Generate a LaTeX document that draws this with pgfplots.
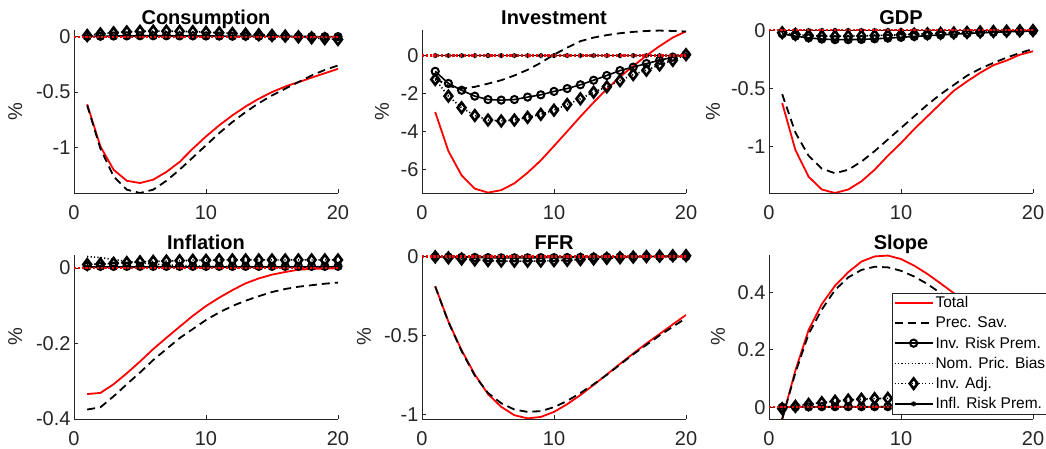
\documentclass[border=0pt]{standalone}
\usepackage{fontspec}
\setmainfont{Liberation Sans}
\usepackage{pgfplots}
\usepackage{pgfplotstable}
\pgfplotsset{compat=1.18}
\definecolor{axgray}{rgb}{0.15,0.15,0.15}

\pgfplotstableread{
t tot ps irp npb ia irf
1 -0.61 -0.62 0.002 0 0.010 0
2 -0.99 -1.01 0.004 0 0.025 0
3 -1.20 -1.26 0.006 0 0.035 0
4 -1.30 -1.38 0.007 0 0.043 0
5 -1.32 -1.41 0.008 0 0.048 0
6 -1.29 -1.38 0.008 0 0.050 0
7 -1.22 -1.30 0.008 0 0.050 0
8 -1.13 -1.20 0.007 0 0.048 0
9 -1.01 -1.09 0.007 0 0.045 0
10 -0.90 -0.98 0.006 0 0.040 0
11 -0.80 -0.87 0.005 0 0.035 0
12 -0.71 -0.77 0.004 0 0.029 0
13 -0.63 -0.68 0.004 0 0.023 0
14 -0.56 -0.60 0.003 0 0.017 0
15 -0.50 -0.53 0.002 0 0.011 0
16 -0.45 -0.47 0.002 0 0.005 0
17 -0.41 -0.41 0.001 0 -0.002 0
18 -0.37 -0.35 0.001 0 -0.010 0
19 -0.33 -0.30 0 0 -0.018 0
20 -0.29 -0.26 0 0 -0.026 0
}\tabC

\pgfplotstableread{
t tot ps irp npb ia irf
1 -2.98 -1.20 -0.83 0 -1.26 0
2 -5.04 -1.60 -1.47 0 -2.14 0
3 -6.32 -1.75 -1.83 0 -2.75 0
4 -7.02 -1.65 -2.14 0 -3.16 0
5 -7.23 -1.48 -2.32 0 -3.40 0
6 -7.10 -1.30 -2.35 0 -3.45 0
7 -6.74 -1.05 -2.32 0 -3.40 0
8 -6.18 -0.75 -2.19 0 -3.26 0
9 -5.53 -0.38 -2.07 0 -3.10 0
10 -4.77 0.05 -1.89 0 -2.88 0
11 -4.00 0.42 -1.74 0 -2.58 0
12 -3.22 0.76 -1.54 0 -2.28 0
13 -2.47 0.95 -1.30 0 -1.93 0
14 -1.77 1.08 -1.05 0 -1.65 0
15 -1.12 1.18 -0.79 0 -1.32 0
16 -0.55 1.25 -0.61 0 -1.00 0
17 0.00 1.30 -0.42 0 -0.77 0
18 0.50 1.32 -0.25 0 -0.49 0
19 0.95 1.30 -0.08 0 -0.25 0
20 1.28 1.27 0.05 0 0.05 0
}\tabI

\pgfplotstableread{
t tot ps irp npb ia irf
1 -0.626 -0.55 -0.030 0 -0.020 0
2 -1.03 -0.88 -0.050 0 -0.035 0
3 -1.26 -1.08 -0.065 0 -0.045 0
4 -1.37 -1.19 -0.075 0 -0.050 0
5 -1.40 -1.23 -0.080 0 -0.050 0
6 -1.37 -1.20 -0.080 0 -0.050 0
7 -1.30 -1.13 -0.078 0 -0.048 0
8 -1.20 -1.04 -0.073 0 -0.045 0
9 -1.08 -0.94 -0.067 0 -0.042 0
10 -0.97 -0.84 -0.060 0 -0.038 0
11 -0.85 -0.74 -0.053 0 -0.034 0
12 -0.74 -0.64 -0.046 0 -0.030 0
13 -0.63 -0.55 -0.040 0 -0.026 0
14 -0.52 -0.47 -0.033 0 -0.022 0
15 -0.44 -0.39 -0.027 0 -0.018 0
16 -0.365 -0.33 -0.022 0 -0.014 0
17 -0.30 -0.28 -0.017 0 -0.010 0
18 -0.26 -0.235 -0.013 0 -0.007 0
19 -0.21 -0.195 -0.009 0 -0.004 0
20 -0.18 -0.16 -0.006 0 -0.002 0
}\tabG

\pgfplotstableread{
t tot ps irp npb ia irf
1 -0.334 -0.375 0.004 0.030 0.009 0.002
2 -0.331 -0.369 0.004 0.027 0.010 0.002
3 -0.308 -0.340 0.004 0.022 0.012 0.002
4 -0.279 -0.308 0.004 0.017 0.014 0.002
5 -0.248 -0.277 0.004 0.013 0.016 0.002
6 -0.215 -0.244 0.004 0.010 0.017 0.002
7 -0.185 -0.215 0.004 0.008 0.018 0.002
8 -0.156 -0.186 0.004 0.006 0.019 0.002
9 -0.127 -0.162 0.004 0.005 0.020 0.002
10 -0.101 -0.138 0.004 0.004 0.020 0.002
11 -0.079 -0.118 0.004 0.004 0.021 0.002
12 -0.059 -0.101 0.004 0.003 0.021 0.002
13 -0.041 -0.087 0.004 0.003 0.021 0.002
14 -0.028 -0.075 0.004 0.003 0.021 0.002
15 -0.018 -0.064 0.004 0.003 0.021 0.002
16 -0.011 -0.056 0.004 0.003 0.021 0.002
17 -0.005 -0.050 0.004 0.003 0.021 0.002
18 -0.003 -0.046 0.004 0.003 0.021 0.002
19 -0.002 -0.042 0.004 0.003 0.021 0.002
20 -0.001 -0.039 0.004 0.003 0.021 0.002
}\tabP

\pgfplotstableread{
t tot ps irp npb ia irf
1 -0.188 -0.19 -0.001 0 -0.002 0
2 -0.412 -0.415 -0.003 0 -0.008 0
3 -0.594 -0.60 -0.005 0 -0.015 0
4 -0.748 -0.755 -0.006 0 -0.021 0
5 -0.872 -0.865 -0.007 0 -0.025 0
6 -0.953 -0.93 -0.008 0 -0.028 0
7 -1.006 -0.97 -0.008 0 -0.029 0
8 -1.026 -0.985 -0.008 0 -0.029 0
9 -1.017 -0.98 -0.007 0 -0.028 0
10 -0.985 -0.955 -0.007 0 -0.026 0
11 -0.936 -0.915 -0.006 0 -0.023 0
12 -0.878 -0.865 -0.005 0 -0.019 0
13 -0.814 -0.81 -0.004 0 -0.015 0
14 -0.748 -0.75 -0.003 0 -0.011 0
15 -0.68 -0.685 -0.002 0 -0.007 0
16 -0.615 -0.62 -0.001 0 -0.003 0
17 -0.551 -0.56 0 0 0.000 0
18 -0.491 -0.50 0 0 0.003 0
19 -0.43 -0.445 0 0 0.005 0
20 -0.37 -0.39 0 0 0.006 0
}\tabF

\pgfplotstableread{
t tot ps irp npb ia irf
1 -0.041 -0.041 0 0 -0.005 0
2 0.128 0.120 0.001 0 0.003 0
3 0.269 0.255 0.001 0 0.010 0
4 0.359 0.340 0.002 0 0.016 0
5 0.423 0.408 0.002 0 0.021 0
6 0.470 0.452 0.002 0 0.025 0
7 0.507 0.478 0.002 0 0.028 0
8 0.525 0.489 0.002 0 0.030 0
9 0.528 0.487 0.002 0 0.031 0
10 0.516 0.475 0.002 0 0.031 0
11 0.493 0.455 0.002 0 0.030 0
12 0.464 0.429 0.002 0 0.029 0
13 0.431 0.397 0.002 0 0.027 0
14 0.397 0.365 0.002 0 0.025 0
15 0.360 0.330 0.002 0 0.023 0
16 0.320 0.295 0.002 0 0.021 0
17 0.280 0.260 0.002 0 0.019 0
18 0.245 0.230 0.002 0 0.017 0
19 0.210 0.200 0.002 0 0.015 0
20 0.180 0.170 0.002 0 0.013 0
}\tabS

\pgfplotsset{
  irf/.style={
    scale only axis, width=264pt, anchor=south west,
    xmin=0, xmax=20, xtick={0,10,20},
    axis lines*=left, tick align=inside, clip mode=individual,
    axis line style={draw=axgray, line width=0.6pt},
    tick style={draw=axgray, line width=0.6pt}, major tick length=4pt,
    /pgf/number format/assume math mode=true,
    ticklabel style={font=\fontsize{20}{24}\selectfont, text=axgray},
    xticklabel style={anchor=base, yshift=-27pt},
    title style={at={(0.5,1)}, anchor=base, yshift=-1pt, font=\bfseries\fontsize{20}{24}\selectfont},
    ylabel={\%},
    ylabel style={font=\fontsize{20}{24}\selectfont, text=axgray, anchor=center, at={(axis description cs:#1,0.5)}},
    legend image code/.code={\draw[mark repeat=2,mark phase=2,##1] plot coordinates {(0pt,0pt) (19pt,0pt) (38pt,0pt)};},
  },
}

\newcommand\irfplots[1]{%
  \addplot[red, line width=1.8pt] table[x=t,y=tot]{#1};
  \addplot[black, line width=1.8pt, dash pattern=on 8pt off 5pt] table[x=t,y=ps]{#1};
  \addplot[black, line width=1.6pt, mark=o, mark size=3.6pt, mark options={solid, line width=2pt}] table[x=t,y=irp]{#1};
  \addplot[black, line width=1.6pt, dash pattern=on 1.2pt off 2.2pt] table[x=t,y=npb]{#1};
  \addplot[black, line width=1.6pt, dash pattern=on 1.2pt off 2.2pt, mark=diamond, mark size=5.2pt, mark options={solid, line width=2.6pt}] table[x=t,y=ia]{#1};
  \addplot[black, line width=1.6pt, mark=asterisk, mark size=2.5pt, mark options={solid}] table[x=t,y=irf]{#1};
  \addplot[red, line width=2.2pt, dash pattern=on 2.2pt off 1.6pt, forget plot] coordinates {(0,0) (20,0)};
}

\begin{document}
\begin{tikzpicture}
\path[use as bounding box] (0,0) rectangle (1046pt,449pt);

\begin{axis}[irf=-0.223, at={(74pt,256pt)}, height=163pt,
  ymin=-1.41, ymax=0.06, ytick={-1,-0.5,0}, title={Consumption}]
\irfplots{\tabC}
\end{axis}

\begin{axis}[irf=-0.152, at={(422pt,256pt)}, height=163pt,
  ymin=-7.25, ymax=1.35, ytick={-6,-4,-2,0}, title={Investment}]
\irfplots{\tabI}
\end{axis}

\begin{axis}[irf=-0.212, at={(769pt,256pt)}, height=163pt,
  ymin=-1.40, ymax=0.003, ytick={-1,-0.5,0}, title={GDP}]
\irfplots{\tabG}
\end{axis}

\begin{axis}[irf=-0.223, at={(74pt,30pt)}, height=164pt,
  ymin=-0.40, ymax=0.034, ytick={-0.4,-0.2,0}, title={Inflation}]
\irfplots{\tabP}
\end{axis}

\begin{axis}[irf=-0.22, at={(422pt,30pt)}, height=164pt,
  ymin=-1.03, ymax=0.01, ytick={-1,-0.5,0}, title={FFR}]
\irfplots{\tabF}
\end{axis}

\begin{axis}[irf=-0.193, at={(769pt,30pt)}, height=164pt,
  ymin=-0.041, ymax=0.53, ytick={0,0.2,0.4}, title={Slope},
  legend style={at={(axis description cs:0.466,0.768)}, anchor=north west,
    font=\fontsize{15.5}{18.5}\selectfont, draw=axgray,
    inner sep=1.5pt, cells={anchor=west}, row sep=3.5pt}]
\irfplots{\tabS}
\legend{Total, Prec. Sav., Inv. Risk Prem., Nom. Pric. Bias, Inv. Adj., Infl. Risk Prem.}
\end{axis}
\end{tikzpicture}
\end{document}
